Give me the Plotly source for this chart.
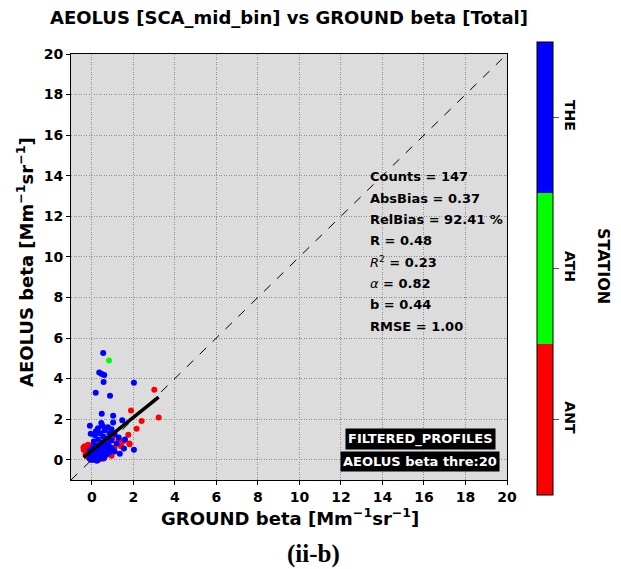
import plotly.graph_objects as go

# ---- data ----
stations = ["ANT", "ATH", "THE"]
station_colors = ["#ff0000", "#00ff00", "#0000ff"]

ant_ground = [3.01, 3.22, 1.89, 2.40, 2.16, 1.76, 1.29, 1.81, 1.82, 1.41, -0.34, -0.18, -0.39, -0.25, -0.30,
              -0.15, -0.10, 0.00, 0.10, -0.20, 0.05, 0.20, 0.35, 0.50, 0.60, 1.10, 0.80, 0.95, -0.05, 0.30,
              0.15, 0.40, 0.70, 1.50, 1.00, -0.40, 0.25, 0.45, 0.08, -0.12, 0.55, 0.65, 0.20]
ant_aeolus = [3.45, 2.08, 2.43, 1.91, 1.53, 1.23, 0.99, 0.80, 0.76, 0.66, 0.66, 0.74, 0.49, 0.55, 0.30,
              0.40, 0.20, 0.70, 0.80, 0.15, 0.05, 0.60, 0.45, 0.40, 0.20, 0.60, 0.90, 0.20, 0.00, 0.00,
              0.50, 0.25, 0.55, 0.90, 1.10, 0.60, 0.85, 0.70, 0.18, 0.60, 0.05, 0.95, 0.35]

ath_ground = [0.83, 0.33, 0.17, 0.05, 0.25, 0.10, -0.05, 0.40, 0.60, 0.15, 0.30, 0.00, 0.45, 0.20, 0.08]
ath_aeolus = [4.89, 0.95, 0.33, 0.15, 0.50, 0.65, 0.35, 0.80, 0.65, 0.05, 0.25, 0.10, 0.40, 0.20, 0.45]

the_ground = [0.55, 0.36, 0.48, 0.60, 0.57, 2.03, 0.19, 0.88, 0.48, 1.03, 1.47, 1.03, 0.46, -0.09, 0.52,
              0.78, 0.30, 0.95, 0.20, 0.62, 0.85, 1.10, 0.40, -0.05, 0.15, 0.55, 0.70, 1.30, 1.60, 0.30,
              0.95, 0.10, 0.50, 1.20, 0.80, 2.03, 1.55, 1.00, 0.65, 0.35, 0.20, 0.05, -0.10, 0.00, 0.10,
              0.25, 0.40, 0.55, 0.70, 0.85, 0.15, 0.30, 0.05, -0.05, 0.20, 0.35, 0.45, 0.10, 0.25, -0.10,
              0.60, 0.00, 0.18, 0.08, 0.30, 0.45, 0.12, 0.60, 0.90, 0.75, 1.10, 1.35, 0.40, 0.22, -0.02,
              0.05, 0.15, 0.28, 0.50, 0.38, 0.12, 0.32, 0.02, 0.42, 0.26, 0.18, 0.07, 0.36, 0.48]
the_aeolus = [5.26, 4.30, 4.22, 4.17, 3.83, 3.79, 3.30, 3.15, 2.27, 2.17, 1.95, 1.84, 1.81, 1.67, 1.67,
              1.60, 1.55, 1.50, 1.40, 1.45, 1.30, 1.25, 1.30, 1.28, 1.20, 1.15, 1.05, 1.10, 1.00, 1.00,
              0.95, 0.90, 0.85, 0.80, 0.75, 0.49, 0.55, 0.50, 0.60, 0.70, 0.55, 0.60, 0.45, 0.35, 0.30,
              0.40, 0.35, 0.30, 0.25, 0.35, 0.15, 0.20, 0.10, 0.20, 0.05, 0.10, 0.15, 0.00, -0.05, 0.05,
              0.10, 0.50, 0.25, 0.40, 0.55, 0.50, 0.70, 0.75, 0.60, 0.45, 0.40, 0.30, 0.05, 0.30, 0.00,
              0.22, 0.45, 0.12, 0.22, 0.62, 0.18, 0.32, 0.28, 0.08, 0.36, 0.02, 0.14, 0.24, 0.12]

stats_lines = ["<b>Counts = 147</b>", "<b>AbsBias = 0.37</b>", "<b>RelBias = 92.41 %</b>", "<b>R = 0.48</b>",
               "<i>R</i><sup>2</sup><b> = 0.23</b>", "<i>α</i><b> = 0.82</b>", "<b>b = 0.44</b>",
               "<b>RMSE = 1.00</b>"]
fit_slope = 0.82
fit_intercept = 0.44
axis_ticks = list(range(0, 21, 2))

# ---- figure ----
FONT = "DejaVu Sans"
W, H = 613, 561          # page body adds an 8px offset
L, T, PW, PH = 63, 46, 436, 426   # plot area in figure pixels


def px(xpix):
    return (xpix - 8 - L) / PW


def py(ypix):
    return (T + PH - (ypix - 8)) / PH


groups = [(ant_ground, ant_aeolus, 0.5), (ath_ground, ath_aeolus, 1.5), (the_ground, the_aeolus, 2.5)]
all_x, all_y, all_c = [], [], []
for gx, gy, code in groups:
    all_x += gx
    all_y += gy
    all_c += [code] * len(gx)

colorscale = [[0, station_colors[0]], [1/3, station_colors[0]],
              [1/3, station_colors[1]], [2/3, station_colors[1]],
              [2/3, station_colors[2]], [1, station_colors[2]]]

fig = go.Figure()

# 1:1 line
fig.add_trace(go.Scatter(x=[-1, 20], y=[-1, 20], mode="lines",
                         line=dict(color="black", width=1, dash="dash"), hoverinfo="skip"))

fig.add_trace(go.Scatter(
    x=all_x, y=all_y, mode="markers",
    marker=dict(size=6, color=all_c, cmin=0, cmax=3, colorscale=colorscale, line=dict(width=0),
                showscale=True,
                colorbar=dict(x=px(537), xanchor="left", xpad=0, y=py(268.5), yanchor="middle", ypad=0,
                              thickness=16, len=453, lenmode="pixels",
                              outlinewidth=1, outlinecolor="black",
                              tickvals=[0.5, 1.5, 2.5], ticktext=stations, tickangle=90,
                              ticks="outside", ticklen=6, tickcolor="#555555",
                              tickfont=dict(family=FONT, size=14, color="black", weight="bold"))),
))

# regression line
fx = [min(all_x), max(all_x)]
fy = [fit_slope * v + fit_intercept for v in fx]
fig.add_trace(go.Scatter(x=fx, y=fy, mode="lines", line=dict(color="black", width=3.5), hoverinfo="skip"))

axis_common = dict(range=[-1, 20], tickvals=axis_ticks, showgrid=True, gridcolor="#8c8c8c",
                   griddash="1px,1.5px", gridwidth=1, zeroline=False, showline=True, linecolor="black",
                   linewidth=1, mirror=True, ticks="outside", ticklen=4, tickcolor="black",
                   tickfont=dict(family=FONT, size=14, color="black", weight="bold"))
fig.update_xaxes(**axis_common)
fig.update_yaxes(**axis_common)

annotations = []
for i, t in enumerate(stats_lines):
    annotations.append(dict(x=13.29, y=13.94 - i * 1.05, xref="x", yref="y", text=t, showarrow=False,
                            xanchor="left", yanchor="middle",
                            font=dict(family=FONT, size=13, color="black")))
for txt, ypix in [("<b>FILTERED_PROFILES</b>", 439), ("<b>AEOLUS beta thre:20</b>", 461)]:
    annotations.append(dict(x=px(420), y=py(ypix), xref="paper", yref="paper", text=txt,
                            showarrow=False, xanchor="center", yanchor="middle", bgcolor="black",
                            borderpad=2, font=dict(family=FONT, size=13, color="white")))
# axis titles
annotations.append(dict(x=px(290), y=py(517), xref="paper", yref="paper",
                        text="<b>GROUND beta [Mm<sup>−1</sup>sr<sup>−1</sup>]</b>", showarrow=False,
                        xanchor="center", yanchor="middle", font=dict(family=FONT, size=18, color="black")))
annotations.append(dict(x=px(25), y=py(262), xref="paper", yref="paper",
                        text="<b>AEOLUS beta [Mm<sup>−1</sup>sr<sup>−1</sup>]</b>", showarrow=False,
                        textangle=-90, xanchor="center", yanchor="middle",
                        font=dict(family=FONT, size=18, color="black")))
annotations.append(dict(x=px(604), y=py(266), xref="paper", yref="paper",
                        text="<b>STATION</b>", showarrow=False, textangle=90, xanchor="center",
                        yanchor="middle", font=dict(family=FONT, size=16, color="black")))
annotations.append(dict(x=px(313), y=py(554), xref="paper", yref="paper",
                        text="<b>(ii-b)</b>", showarrow=False, xanchor="center", yanchor="middle",
                        font=dict(family="Liberation Serif", size=25, color="black")))

fig.update_layout(
    width=W, height=H,
    margin=dict(l=L, r=W - L - PW, t=T, b=H - T - PH),
    paper_bgcolor="white", plot_bgcolor="#dcdcdc",
    showlegend=False,
    title=dict(text="<b>AEOLUS [SCA_mid_bin] vs GROUND beta [Total]</b>", x=(289 - 8) / W, xanchor="center",
               y=1 - (18 - 8) / H, yanchor="middle", font=dict(family=FONT, size=18, color="black")),
    annotations=annotations,
)

fig.write_html("out.html")
